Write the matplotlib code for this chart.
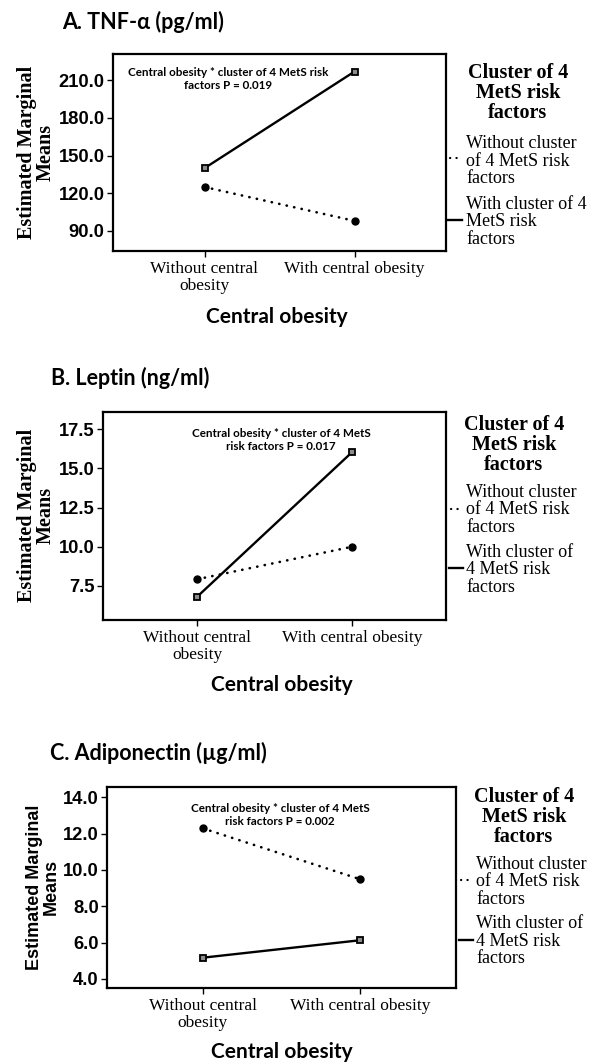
import matplotlib
matplotlib.use("Agg")
import matplotlib.pyplot as plt
from matplotlib.lines import Line2D
from matplotlib.ticker import FormatStrFormatter

W, H = 590, 1064

categories = ["Without central\nobesity", "With central obesity"]

tnf_with_cluster = [140.0, 217.0]
tnf_without_cluster = [125.0, 98.0]
leptin_with_cluster = [6.82, 16.02]
leptin_without_cluster = [7.93, 10.0]
adipo_with_cluster = [5.17, 6.13]
adipo_without_cluster = [12.29, 9.49]

tnf_ticks = [90, 120, 150, 180, 210]
leptin_ticks = [7.5, 10.0, 12.5, 15.0, 17.5]
adipo_ticks = [4, 6, 8, 10, 12, 14]

panel_titles = ["A. TNF-α (pg/ml)", "B. Leptin (ng/ml)", "C. Adiponectin (µg/ml)"]
p_notes = ["Central obesity * cluster of 4 MetS risk\nfactors P = 0.019",
           "Central obesity * cluster of 4 MetS\nrisk factors P = 0.017",
           "Central obesity * cluster of 4 MetS\nrisk factors P = 0.002"]
legend_title = "Cluster of 4\nMetS risk\nfactors"
legend_without = "Without cluster\nof 4 MetS risk\nfactors"
legend_with = ["With cluster of 4\nMetS risk\nfactors",
               "With cluster of\n4 MetS risk\nfactors",
               "With cluster of\n4 MetS risk\nfactors"]

SERIF = "Liberation Serif"
SANS = "Liberation Sans"
HUMANIST = ["Lato", "Open Sans", "DejaVu Sans"]

DOTTED = (0, (0.1, 2.8))

fig = plt.figure(figsize=(W / 100, H / 100), dpi=100)


def px(x, y):
    return x / W, 1 - y / H


def draw_panel(i, box, ylim, ticks, with_vals, without_vals, layout):
    l, r, t, b = box
    ax = fig.add_axes([l / W, 1 - b / H, (r - l) / W, (b - t) / H])
    xs = list(range(len(categories)))

    ax.plot(xs, without_vals, color="black", lw=1.9, ls=DOTTED,
            dash_capstyle="round", marker="o", ms=5, mfc="black", mec="black")
    ax.plot(xs, with_vals, color="black", lw=1.7, marker="s", ms=5,
            mfc="0.55", mec="black", mew=1.3)

    ax.set_xlim(-0.61, 1.61)
    ax.set_ylim(*ylim)
    ax.set_xticks(xs)
    ax.set_xticklabels(categories, fontfamily=SERIF, fontsize=12.5, linespacing=1.05)
    ax.set_yticks(ticks)
    ax.yaxis.set_major_formatter(FormatStrFormatter("%.1f"))
    for lbl in ax.get_yticklabels():
        lbl.set_fontfamily(SANS)
        lbl.set_fontweight("bold")
        lbl.set_fontsize(13.2)
    ax.tick_params(axis="both", direction="out", length=4.5, width=1.0, color="black")
    ax.tick_params(axis="y", pad=1.5)
    ax.tick_params(axis="x", pad=3)
    for sp in ax.spines.values():
        sp.set_linewidth(1.6)

    # interaction p-value note inside the plot
    nx, ny = layout["note"]
    fig.text(*px(nx, ny), p_notes[i], ha="center", va="center", family=HUMANIST,
             fontweight="bold", fontsize=8.4, linespacing=1.15)

    # panel heading and x-axis title
    tx, ty = layout["title"]
    fig.text(*px(tx, ty), panel_titles[i], ha="left", va="center", family=HUMANIST,
             fontweight="bold", fontsize=15.5)
    xx, xy = layout["xlabel"]
    fig.text(*px(xx, xy), "Central obesity", ha="center", va="center", family=HUMANIST,
             fontweight="bold", fontsize=15)

    # y-axis title
    yx, yy = layout["ylabel"]
    if layout["ylabel_serif"]:
        fig.text(*px(yx, yy), "Estimated Marginal\nMeans", rotation=90, ha="center",
                 va="center", family=SERIF, fontweight="bold", fontsize=14.5,
                 linespacing=0.92)
    else:
        fig.text(*px(yx, yy), "Estimated Marginal\nMeans", rotation=90, ha="center",
                 va="center", family=SANS, fontweight="bold", fontsize=13,
                 linespacing=0.98)

    # legend drawn beside the plot
    lx, ly = layout["legend_title"]
    fig.text(*px(lx, ly), legend_title, ha="center", va="center", family=SERIF,
             fontweight="bold", fontsize=14.5, linespacing=1.02)
    ex, ey1, ey2 = layout["entries"]
    fig.text(*px(ex, ey1), legend_without, ha="left", va="center", family=SERIF,
             fontsize=13, linespacing=1.05)
    fig.text(*px(ex, ey2), legend_with[i], ha="left", va="center", family=SERIF,
             fontsize=13, linespacing=1.05)
    s0 = layout["swatch_x"]
    dy1, dy2 = layout["swatch_y"]
    fig.add_artist(Line2D([(s0 + 2) / W, (s0 + 12) / W], [1 - dy1 / H] * 2, color="black",
                          lw=1.6, ls=DOTTED, dash_capstyle="round"))
    fig.add_artist(Line2D([s0 / W, (s0 + 14) / W], [1 - dy2 / H] * 2, color="black",
                          lw=1.7))
    return ax


draw_panel(0, (113, 446, 54, 251), (74, 231), tnf_ticks,
           tnf_with_cluster, tnf_without_cluster,
           dict(note=(228, 79), title=(62, 22), xlabel=(277, 317),
                ylabel=(36.5, 152), ylabel_serif=True,
                legend_title=(518, 93), entries=(466, 161, 222),
                swatch_x=448, swatch_y=(158, 220)))

draw_panel(1, (103, 446, 412, 620), (5.33, 18.6), leptin_ticks,
           leptin_with_cluster, leptin_without_cluster,
           dict(note=(281, 440), title=(51, 378), xlabel=(282, 685),
                ylabel=(36.5, 515), ylabel_serif=True,
                legend_title=(514, 445), entries=(466, 510, 570),
                swatch_x=449, swatch_y=(509, 568)))

draw_panel(2, (107, 456, 787, 988), (3.5, 14.57), adipo_ticks,
           adipo_with_cluster, adipo_without_cluster,
           dict(note=(280, 815), title=(50, 753), xlabel=(282, 1052),
                ylabel=(43, 887), ylabel_serif=False,
                legend_title=(524, 817), entries=(476, 882, 941),
                swatch_x=459, swatch_y=(880, 940)))

fig.savefig("out.png", dpi=100, facecolor="white")
